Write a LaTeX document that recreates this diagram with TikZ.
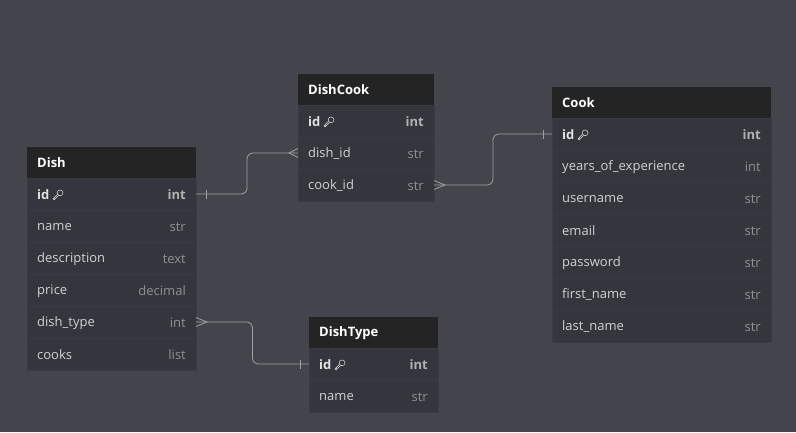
\documentclass[tikz,border=0pt]{standalone}
\usepackage{fontspec}
\setmainfont{Open Sans}
\usepackage{tikz}
\usetikzlibrary{calc,positioning}
\definecolor{CanvasGray}{HTML}{44444C}
\definecolor{HeadBlack}{HTML}{242424}
\definecolor{TableBody}{HTML}{35353D}
\definecolor{RowLine}{HTML}{3B3B43}
\definecolor{FieldText}{HTML}{D2D2D2}
\definecolor{TypeText}{HTML}{909090}
\definecolor{KeyText}{HTML}{E2E2E2}
\definecolor{RelGray}{HTML}{A0A0A0}

\tikzset{
	tabhead/.style={fill=HeadBlack, anchor=north west, minimum height=31, inner sep=0, outer sep=0},
	tabrow/.style={fill=TableBody, draw=RowLine, line width=0.6pt, minimum height=32, inner sep=0, outer sep=0},
	titletxt/.style={anchor=west, text=white, font=\bfseries\fontsize{13}{15}\selectfont, inner sep=0, yshift=-0.5},
	fieldtxt/.style={anchor=west, text=FieldText, font=\fontsize{13}{15}\selectfont, inner sep=0, yshift=-0.8},
	typetxt/.style={anchor=east, text=TypeText, font=\fontsize{13}{15}\selectfont, inner sep=0, yshift=-0.8},
	keytxt/.style={fieldtxt, text=KeyText, font=\bfseries\fontsize{13}{15}\selectfont},
	keytype/.style={typetxt, text=TypeText!70!white, font=\bfseries\fontsize{13}{15}\selectfont},
	rel/.style={draw=RelGray, line width=0.8pt, rounded corners=6},
}

% petite clef pour les champs id
\newcommand{\keyicon}{\tikz[baseline=-4.5pt, x=1pt, y=1pt, line width=0.5pt]{%
	\draw[rotate=135] (0,-3.2) circle (2.9);
	\draw[rotate=135] (-0.8,-0.3) -- (-0.8,6) -- (0.8,6) -- (0.8,4.8) -- (0.1,4.3) -- (0.8,3.6) -- (0.8,-0.3);}}

% une table : nom, x, y, largeur, titre, champs (apres id)
\newcommand{\ertable}[6]{%
	\node[tabhead, minimum width=#4] (#1) at (#2,#3) {};
	\node[titletxt] (#1-title) at ([xshift=10]#1.west) {#5};
	\node[tabrow, minimum width=#4, below=0pt of #1] (#1-1) {};
	\node[keytxt] (#1-1-f) at ([xshift=10]#1-1.west) {id \keyicon};
	\node[keytype] (#1-1-t) at ([xshift=-10]#1-1.east) {int};
	\foreach \f/\t [count=\i from 2] in {#6} {
		\pgfmathtruncatemacro\j{\i-1}
		\node[tabrow, minimum width=#4, below=0pt of #1-\j] (#1-\i) {};
		\node[fieldtxt] (#1-\i-f) at ([xshift=10]#1-\i.west) {\f};
		\node[typetxt] (#1-\i-t) at ([xshift=-10]#1-\i.east) {\t};
	}
}

% marques de cardinalite
\newcommand{\onemark}[2]{\draw[rel] ($(#1)+(#2,-4.5)$) -- ++(0,9);}
\newcommand{\manymark}[2]{\draw[rel, rounded corners=0] ($(#1)+(0,-4.5)$) -- ($(#1)+(#2,0)$) -- ($(#1)+(0,4.5)$);}

\begin{document}
\begin{tikzpicture}[x=1pt, y=-1pt]
	\fill[CanvasGray] (0,0) rectangle (796,432);

	% Tables
	\ertable{dish}{27}{147}{169}{Dish}{name/str, description/text, price/decimal, dish\_type/int, cooks/list}
	\ertable{dishcook}{298}{74}{136}{DishCook}{dish\_id/str, cook\_id/str}
	\ertable{cook}{552}{87}{219}{Cook}{years\_of\_experience/int, username/str, email/str, password/str, first\_name/str, last\_name/str}
	\ertable{dishtype}{309}{317}{129}{DishType}{name/str}

	% Relations
	\draw[rel] (dish-1.east) -| ($(dish-1.east)!0.5!(dishcook-2.west)$) |- (dishcook-2.west);
	\onemark{dish-1.east}{10}
	\manymark{dishcook-2.west}{-9}

	\draw[rel] (dishcook-3.east) -| ($(dishcook-3.east)!0.5!(cook-1.west)$) |- (cook-1.west);
	\manymark{dishcook-3.east}{11}
	\onemark{cook-1.west}{-9}

	\draw[rel] (dish-5.east) -| ($(dish-5.east)!0.5!(dishtype-1.west)$) |- (dishtype-1.west);
	\manymark{dish-5.east}{11}
	\onemark{dishtype-1.west}{-9}
\end{tikzpicture}
\end{document}
